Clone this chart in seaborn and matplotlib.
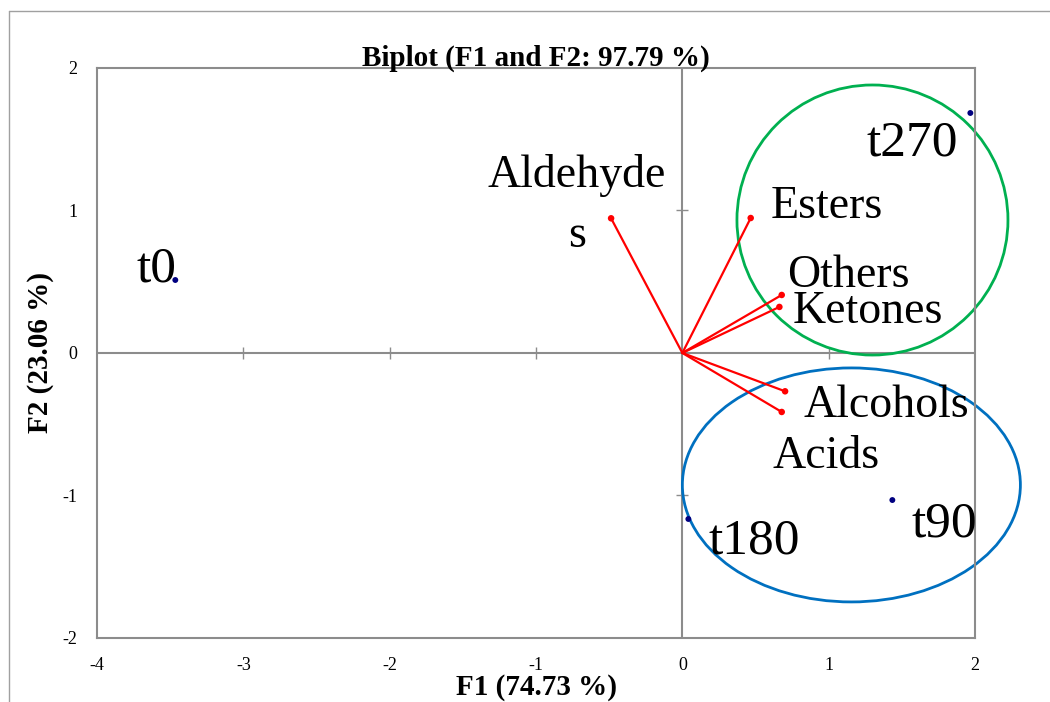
import numpy as np
import pandas as pd
import matplotlib
matplotlib.use("Agg")
import matplotlib.pyplot as plt
import seaborn as sns
from matplotlib.patches import Ellipse
from matplotlib.lines import Line2D

# Observations (scores)
obs_labels = ["t0", "t90", "t180", "t270"]
obs_f1 = [-3.465, 1.435, 0.041, 1.968]
obs_f2 = [0.512, -1.032, -1.165, 1.684]

# Variables (loadings)
var_labels = ["Aldehydes", "Esters", "Others", "Ketones", "Alcohols", "Acids"]
var_f1 = [-0.487, 0.467, 0.679, 0.663, 0.702, 0.679]
var_f2 = [0.945, 0.947, 0.407, 0.323, -0.269, -0.414]

x_ticks = [-4, -3, -2, -1, 0, 1, 2]
y_ticks = [-2, -1, 0, 1, 2]

sns.set_style("white")
plt.rcParams['font.family'] = ['Liberation Serif', 'DejaVu Serif']
plt.rcParams['text.color'] = 'black'
plt.rcParams['axes.labelcolor'] = 'black'
plt.rcParams['xtick.color'] = 'black'
plt.rcParams['ytick.color'] = 'black'

fig = plt.figure(figsize=(10.5, 7.02), dpi=100)
ax = fig.add_axes([0.0924, 0.0912, 0.8362, 0.812])

grey = "#8c8c8c"

# axes through the origin
ax.axhline(0, color=grey, lw=1.5, zorder=1)
ax.axvline(0, color=grey, lw=1.5, zorder=1)
# cross ticks on the zero lines
ax.plot([t for t in x_ticks if t not in (-4, 0, 2)], [0] * 4, ls="none", marker="|",
        ms=9, mew=1, color=grey, zorder=1)
ax.plot([0, 0], [-1, 1], ls="none", marker="_", ms=9, mew=1, color=grey, zorder=1)

# variable vectors
for fx, fy in zip(var_f1, var_f2):
    ax.plot([0, fx], [0, fy], color="red", lw=1.6, zorder=3)
sns.scatterplot(x=var_f1, y=var_f2, color="red", s=22, edgecolor="none", ax=ax, zorder=4)

# observations
df_obs = pd.DataFrame({"F1": obs_f1, "F2": obs_f2, "label": obs_labels})
sns.scatterplot(data=df_obs, x="F1", y="F2", color="#000080", s=18, edgecolor="none",
                ax=ax, zorder=4, clip_on=False)

# labels
var_txt = {
    "Esters": (0.602, 0.947),
    "Others": (0.718, 0.463),
    "Ketones": (0.752, 0.211),
    "Alcohols": (0.827, -0.449),
    "Acids": (0.615, -0.807),
}
for name, (tx, ty) in var_txt.items():
    ax.text(tx, ty, name, fontsize=33, ha="left", va="baseline", zorder=5)
ax.text(-0.724, 1.165, "Aldehyde", fontsize=33, ha="center", va="baseline", zorder=5)
ax.text(-0.718, 0.744, "s", fontsize=33, ha="center", va="baseline", zorder=5)

obs_txt = {
    "t0": (-3.732, 0.498),
    "t90": (1.565, -1.291),
    "t180": (0.178, -1.404),
    "t270": (1.258, 1.389),
}
for name, (tx, ty) in obs_txt.items():
    ax.text(tx, ty, name, fontsize=37, ha="left", va="baseline", zorder=5)

# group ellipses
ax.add_patch(Ellipse((1.299, 0.933), 1.852, 1.895, fill=False, ec="#00b050", lw=2,
                     clip_on=False, zorder=2))
ax.add_patch(Ellipse((1.155, -0.926), 2.31, 1.642, fill=False, ec="#0070c0", lw=2,
                     clip_on=False, zorder=2))

ax.set_xlim(-4, 2)
ax.set_ylim(-2, 2)
ax.set_xticks(x_ticks)
ax.set_yticks(y_ticks)
ax.set_xticklabels([str(t) for t in x_ticks])
ax.set_yticklabels([str(t) for t in y_ticks])
ax.tick_params(length=0, labelsize=13, pad=14)
for sp in ax.spines.values():
    sp.set_color(grey)
    sp.set_linewidth(1.5)

ax.set_xlabel("F1 (74.73 %)", fontsize=21, fontweight="bold", labelpad=0)
ax.set_ylabel("F2 (23.06 %)", fontsize=21, fontweight="bold", labelpad=6)
ax.set_title("Biplot (F1 and F2: 97.79 %)", fontsize=21, fontweight="bold", pad=2)

# outer frame
fig.add_artist(Line2D([9 / 1050, 9 / 1050], [0, 1 - 11 / 702], color="#a0a0a0", lw=1,
                      transform=fig.transFigure))
fig.add_artist(Line2D([9 / 1050, 1], [1 - 11 / 702, 1 - 11 / 702], color="#a0a0a0", lw=1,
                      transform=fig.transFigure))

fig.savefig("out.png", dpi=100)
